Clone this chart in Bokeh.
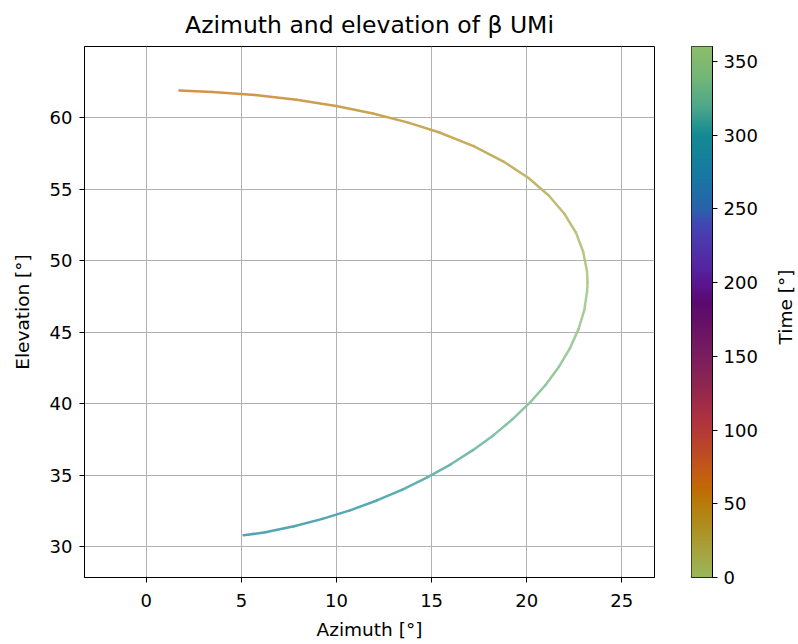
import numpy as np
from bokeh.plotting import figure
from bokeh.models import Range1d, FixedTicker
from bokeh.core.properties import value
from bokeh.layouts import row
from bokeh.embed import file_html
from bokeh.resources import INLINE

# ---- data (points along the track) ----
azimuth = [1.74, 3.47, 5.72, 7.90, 9.98, 11.92, 13.73, 15.38, 17.21, 18.78,
           20.10, 21.16, 21.98, 22.59, 22.97, 23.17, 23.20, 23.18, 23.03, 22.72,
           22.27, 21.69, 20.99, 20.18, 19.26, 18.26, 17.17, 16.01, 14.77, 13.47,
           12.12, 10.71, 9.26, 7.77, 6.26, 5.12]
elevation = [61.92, 61.82, 61.60, 61.27, 60.84, 60.31, 59.69, 59.00, 58.03, 56.95,
             55.80, 54.58, 53.30, 51.98, 50.64, 49.28, 48.52, 47.92, 46.56, 45.21,
             43.88, 42.58, 41.32, 40.10, 38.93, 37.81, 36.76, 35.77, 34.85, 34.00,
             33.24, 32.55, 31.95, 31.43, 31.01, 30.80]
time_deg = [63, 60, 56, 53, 49, 46, 42, 38, 34, 30,
            25, 20, 16, 11, 7, 2, 0, 358, 354, 349,
            344, 340, 335, 331, 326, 322, 318, 313, 308, 304,
            300, 295, 290, 286, 282, 278]

x_ticks = [0, 5, 10, 15, 20, 25]
y_ticks = [30, 35, 40, 45, 50, 55, 60]
cbar_ticks = [0, 50, 100, 150, 200, 250, 300, 350]

# ---- cyclic colormap (style) ----
cmap_stops = [
    (0, "#98b85a"), (10, "#a0ac4a"), (20, "#a8a03a"), (35, "#ae8e1e"),
    (50, "#b67c0a"), (60, "#c06a05"), (70, "#c25e12"), (85, "#bc4a25"),
    (100, "#b43838"), (113, "#a82e45"), (130, "#8e2650"), (150, "#7a1e5e"),
    (170, "#681265"), (186, "#5a0a70"), (200, "#5a1590"), (210, "#5525a0"),
    (230, "#4c3aae"), (240, "#4048b0"), (250, "#2a62ac"), (275, "#167aa0"),
    (300, "#138a92"), (320, "#4fa88a"), (340, "#75b676"), (360, "#8dbd6a"),
]
_pos = np.array([s[0] for s in cmap_stops], dtype=float)
_rgb = np.array([[int(s[1][i:i + 2], 16) for i in (1, 3, 5)] for s in cmap_stops], dtype=float)


def cmap_rgb(t):
    t = t % 360.0
    return np.array([np.interp(t, _pos, _rgb[:, k]) for k in range(3)])


def to_hex(c):
    c = np.clip(np.round(c), 0, 255).astype(int)
    return "#%02x%02x%02x" % tuple(c)


LINE_ALPHA = 0.72
FONT = "DejaVu Sans"
TICK_FS = "18px"
LABEL_FS = "18.5px"

# ---- main figure ----
p = figure(frame_width=570, frame_height=531, min_border_left=84, min_border_right=16,
           min_border_top=46, min_border_bottom=67,
           x_range=Range1d(-3.25, 26.72), y_range=Range1d(27.85, 65.0),
           output_backend="svg", toolbar_location=None,
           title="Azimuth and elevation of β UMi")
p.title.align = "center"
p.title.text_font = FONT
p.title.text_font_size = "23.5px"
p.title.text_font_style = "normal"
p.title.text_color = "black"
p.title.standoff = 15

# segments colored by time
x0, y0, x1, y1, cols = [], [], [], [], []
for i in range(len(azimuth) - 1):
    x0.append(azimuth[i]); y0.append(elevation[i])
    x1.append(azimuth[i + 1]); y1.append(elevation[i + 1])
    c = 0.5 * (cmap_rgb(time_deg[i]) + cmap_rgb(time_deg[i + 1]))
    c = LINE_ALPHA * c + (1 - LINE_ALPHA) * 255.0
    cols.append(to_hex(c))
p.segment(x0=x0, y0=y0, x1=x1, y1=y1, line_color=cols, line_width=2.5, line_cap="round")

p.xaxis.ticker = FixedTicker(ticks=x_ticks)
p.yaxis.ticker = FixedTicker(ticks=y_ticks)
p.xaxis.axis_label = "Azimuth [°]"
p.yaxis.axis_label = "Elevation [°]"
for ax in (p.xaxis, p.yaxis):
    ax.axis_label_text_font = FONT
    ax.axis_label_text_font_size = LABEL_FS
    ax.axis_label_text_font_style = "normal"
    ax.axis_label_text_color = "black"
    ax.major_label_text_font = FONT
    ax.major_label_text_font_size = TICK_FS
    ax.major_label_text_color = "black"
    ax.major_tick_in = 0
    ax.major_tick_out = 5
    ax.minor_tick_out = 0
    ax.minor_tick_in = 0
    ax.axis_line_color = "black"
    ax.major_tick_line_color = "black"
p.xaxis.major_label_standoff = 11
p.yaxis.major_label_standoff = 7
p.xaxis.axis_label_standoff = 9
p.yaxis.axis_label_standoff = 14
p.grid.grid_line_color = "#b0b0b0"
p.grid.grid_line_width = 1
p.outline_line_color = "black"
p.outline_line_width = 1
p.outline_line_alpha = 1

# ---- colorbar figure ----
cb = figure(frame_width=21, frame_height=531, min_border_left=21, min_border_right=60,
            min_border_top=46, min_border_bottom=67,
            x_range=Range1d(0, 1), y_range=Range1d(0, 360),
            output_backend="svg", toolbar_location=None, y_axis_location="right")
steps = np.arange(0, 360, 1.0)
cb.quad(left=0, right=1, bottom=steps, top=np.minimum(steps + 2, 360),
        fill_color=[to_hex(cmap_rgb(s + 0.5)) for s in steps], line_color=None)
cb.xaxis.visible = False
cb.grid.visible = False
cb.yaxis.ticker = FixedTicker(ticks=cbar_ticks)
cb.yaxis.major_label_text_font = FONT
cb.yaxis.major_label_text_font_size = TICK_FS
cb.yaxis.major_label_text_color = "black"
cb.yaxis.major_label_standoff = 6
cb.yaxis.major_tick_in = 0
cb.yaxis.major_tick_out = 5
cb.yaxis.minor_tick_in = 0
cb.yaxis.minor_tick_out = 0
cb.yaxis.axis_line_color = "black"
cb.outline_line_color = "black"
cb.outline_line_width = 1
cb.outline_line_alpha = 1

# ---- colorbar label strip ----
lab = figure(width=26, height=644, min_border=0, x_range=Range1d(0, 1), y_range=Range1d(0, 644),
             output_backend="svg", toolbar_location=None)
lab.axis.visible = False
lab.grid.visible = False
lab.outline_line_color = None
lab.text(x=[0.5], y=[644 - 316], text=["Time [°]"], angle=90, angle_units="deg",
         text_align="center", text_baseline="middle",
         text_font=value(FONT), text_font_size=LABEL_FS, text_color="black")

layout = row(p, cb, lab)
open("out.html", "w").write(file_html(layout, INLINE))
